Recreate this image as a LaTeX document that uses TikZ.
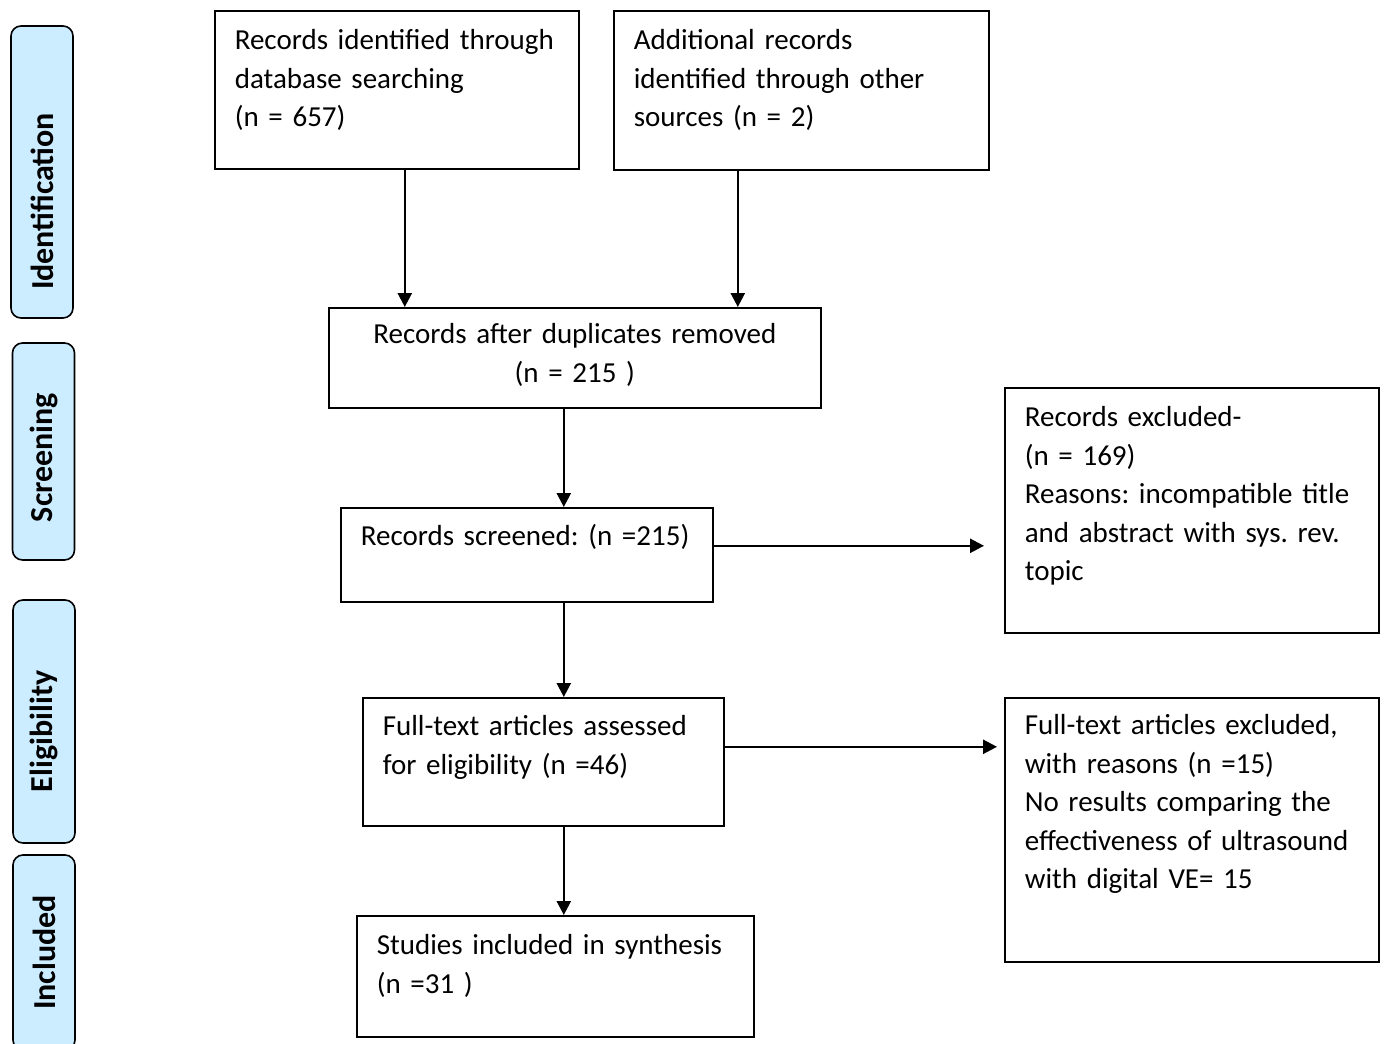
\documentclass[tikz,border=0pt]{standalone}
\usepackage{fontspec}
\setmainfont{Carlito}
\usetikzlibrary{arrows.meta}
\definecolor{stageblue}{RGB}{204,236,255}
\frenchspacing
\begin{document}
\begin{tikzpicture}[x=1pt,y=-1pt,line join=miter,>={Triangle[length=14pt,width=14pt]},
		font=\fontsize{29pt}{38.5pt}\selectfont]
	\tikzset{box/.style={draw,line width=1.6pt,anchor=north west,align=left,
				inner xsep=20pt,inner ysep=0pt,text height=39pt},
			 stage/.style={draw,line width=1.6pt,fill=stageblue,rounded corners=10pt,
				rotate=90,minimum height=62pt,inner sep=0pt,font=\fontsize{32pt}{34pt}\selectfont\bfseries},
			 arr/.style={->,line width=2.5pt}
	}
	\useasboundingbox (0,0) rectangle (1384,1044);
	% stages
	\node[stage,minimum width=292pt] (ident) at (42,172) {Identification\hbox to 59pt{}};
	\node[stage,minimum width=217pt] (scrn) at (43.5,451.5) {Screening\hbox to 12pt{}};
	\node[stage,minimum width=243pt] (elig) at (44,721.5) {Eligibility\hbox to 20pt{}};
	\node[stage,minimum width=195pt] (incl) at (44,952.5) {Included};
	% boxes
	\node[box,text width=324pt,text depth=119pt] (dbrec) at (214,10)
		{Records identified through\\database searching\\(n = 657)};
	\node[box,text width=335pt,text depth=120pt] (other) at (613,10)
		{Additional records\\identified through other\\sources (n = 2)};
	\node[box,align=center,text width=452pt,text height=36pt,text depth=64pt] (dup) at (328,307)
		{Records after duplicates removed\\(n = 215 )};
	\node[box,text width=332pt,text height=38pt,text depth=56pt] (screen) at (340,507)
		{Records screened: (n =215)};
	\node[box,text width=334pt,text depth=206pt] (excl) at (1004,387)
		{Records excluded-\\(n = 169)\\Reasons: incompatible title\\and abstract with sys. rev.\\topic};
	\node[box,text width=321pt,text height=38pt,text depth=90pt] (full) at (362,697)
		{Full-text articles assessed\\for eligibility (n =46)};
	\node[box,text width=334pt,text height=37pt,text depth=227pt] (fullex) at (1004,697)
		{Full-text articles excluded,\\with reasons (n =15)\\No results comparing the\\effectiveness of ultrasound\\with digital VE= 15};
	\node[box,text width=357pt,text depth=82pt] (synth) at (356,915)
		{Studies included in synthesis\\(n =31 )};
	% arrows
	\draw[arr] ([xshift=8pt]dbrec.south) -- ([xshift=8pt]dbrec.south |- dup.north);
	\draw[arr] ([xshift=-63.5pt]other.south) -- ([xshift=-63.5pt]other.south |- dup.north);
	\draw[arr] ([xshift=-11pt]dup.south) -- ([xshift=-11pt]dup.south |- screen.north);
	\draw[arr,shorten >=20pt] ([yshift=9pt]screen.east) -- ([yshift=9pt]screen.east -| excl.west);
	\draw[arr] ([xshift=37pt]screen.south) -- ([xshift=37pt]screen.south |- full.north);
	\draw[arr,shorten >=7pt] ([yshift=15pt]full.east) -- ([yshift=15pt]full.east -| fullex.west);
	\draw[arr] ([xshift=20.5pt]full.south) -- ([xshift=20.5pt]full.south |- synth.north);
\end{tikzpicture}
\end{document}
